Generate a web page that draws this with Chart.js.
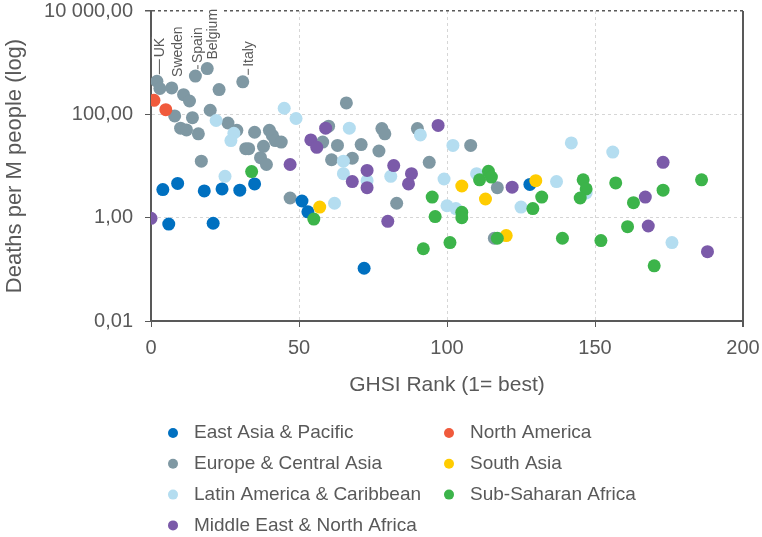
<!DOCTYPE html>
<html>
<head>
<meta charset="utf-8">
<script src="https://cdn.jsdelivr.net/npm/chart.js@4"></script>
<style>
  html, body { margin: 0; padding: 0; background: #fff; }
  #wrap { width: 762px; height: 537px; }
</style>
</head>
<body>
<div id="wrap"><canvas id="myChart" width="762" height="537"></canvas></div>
<script>
// regions, in legend order
var regions = ['East Asia & Pacific', 'Europe & Central Asia', 'Latin America & Caribbean',
               'Middle East & North Africa', 'North America', 'South Asia', 'Sub-Saharan Africa'];

// GHSI rank (x) and deaths per million (y) per region
var eapRank   = [4, 9, 18, 24, 30, 35, 6, 21, 51, 53, 72, 128];
var eapDeaths = [3.5, 4.6, 3.3, 3.6, 3.4, 4.5, 0.75, 0.78, 2.1, 1.3, 0.105, 4.4];

var ecaRank   = [2, 3, 7, 11, 13, 15, 19, 23, 31, 8, 14, 20, 26, 29, 10, 12, 16, 35, 32, 33, 38, 40, 41, 42, 44,
                 17, 37, 39, 47, 66, 60, 58, 63, 61, 68, 71, 77, 78, 79, 90, 108, 94, 83, 117, 116];
var ecaDeaths = [437, 316, 324, 240, 181, 550, 770, 302, 425, 93, 86, 120, 68, 49, 54, 50, 42, 45, 21.6, 21.6, 24, 49, 39, 31, 29,
                 12.4, 14.5, 10.7, 2.4, 166, 59, 29, 25, 13.2, 14.2, 26, 19.5, 53, 42, 53, 25, 11.8, 1.9, 3.8, 0.40];

var lacRank   = [22, 28, 27, 25, 45, 49, 62, 65, 65, 67, 81, 73, 91, 102, 99, 100, 103, 110, 125, 137, 142, 156, 147, 176];
var lacDeaths = [76, 43, 31, 6.3, 131, 83, 1.9, 12.4, 7.1, 54, 6.3, 5.2, 40, 25, 5.6, 1.7, 1.5, 7.1, 1.6, 5.0, 28, 18.6, 3.0, 0.33];

var menaRank   = [0, 47, 54, 56, 59, 68, 97, 73, 82, 88, 87, 73, 80, 122, 173, 167, 168, 188];
var menaDeaths = [0.97, 10.7, 32, 23, 54, 5.0, 61, 8.2, 10.2, 7.1, 4.5, 3.8, 0.85, 3.9, 11.8, 2.5, 0.69, 0.22];

var naRank   = [1, 5];
var naDeaths = [187, 123];

var saRank   = [57, 105, 113, 130, 120];
var saDeaths = [1.6, 4.1, 2.3, 5.2, 0.45];

var ssaRank   = [34, 55, 95, 96, 105, 105, 92, 101, 111, 114, 115, 117, 132, 129, 146, 147, 145, 157, 186, 173, 163, 161, 139, 152, 170];
var ssaDeaths = [7.8, 0.94, 2.5, 1.05, 1.27, 1.0, 0.25, 0.33, 5.4, 7.9, 6.1, 0.40, 2.5, 1.5, 5.4, 3.6, 2.4, 4.7, 5.4, 3.4, 1.95, 0.67, 0.40, 0.36, 0.117];

// axis ticks
var xTicks = [0, 50, 100, 150, 200];
var yTickValues = [0.01, 1, 100, 10000];
var yTickLabels = ['0,01', '1,00', '100,00', '10 000,00'];

// labelled countries (index into the Europe arrays)
var calloutNames = ['UK', 'Sweden', 'Spain', 'Belgium', 'Italy'];
var calloutIndex = [0, 2, 5, 6, 8];

var regionColors = ['#0070c0', '#7f98a3', '#b4ddf0', '#7b5aa9', '#f05a3c', '#ffcc00', '#3cb44a'];
var drawOrder = [5, 7, 6, 4, 3, 2, 1];
var textGray = '#595959';
var fam = '"Liberation Sans", Arial, sans-serif';

function pts(xs, ys) {
    return xs.map(function (x, i) { return { x: x, y: ys[i] }; });
}
var series = [
    pts(eapRank, eapDeaths), pts(ecaRank, ecaDeaths), pts(lacRank, lacDeaths),
    pts(menaRank, menaDeaths), pts(naRank, naDeaths), pts(saRank, saDeaths), pts(ssaRank, ssaDeaths)
];

// right frame line + country callouts
var framePlugin = {
    id: 'frame',
    beforeDatasetsDraw: function (chart) {
        var c = chart.ctx, a = chart.chartArea;
        var xs = chart.scales.x, ys = chart.scales.y;
        c.save();
        c.strokeStyle = textGray;
        c.lineWidth = 2;
        c.beginPath();
        c.moveTo(a.right, a.top);
        c.lineTo(a.right, a.bottom + 6);
        c.stroke();

        var offs = {
            'UK':      { dx: 3, dy: -24, lead: true },
            'Sweden':  { dx: 6, dy: -11, lead: false },
            'Spain':   { dx: 3, dy: -13, lead: true },
            'Belgium': { dx: 6, dy: -9,  lead: false },
            'Italy':   { dx: 6, dy: -15, lead: true }
        };
        c.font = '14px ' + fam;
        calloutNames.forEach(function (name, k) {
            var i = calloutIndex[k];
            var px = xs.getPixelForValue(ecaRank[i]);
            var py = ys.getPixelForValue(ecaDeaths[i]);
            var o = offs[name];
            var cx = px + o.dx, by = py + o.dy;
            var w = c.measureText(name).width;
            c.save();
            c.translate(cx, by);
            c.rotate(-Math.PI / 2);
            c.fillStyle = '#fff';
            c.fillRect(-1, -8, w + 2, 16);
            c.fillStyle = textGray;
            c.textAlign = 'left';
            c.textBaseline = 'middle';
            c.fillText(name, 0, 0);
            c.restore();
            if (o.lead) {
                c.strokeStyle = textGray;
                c.lineWidth = 1;
                c.beginPath();
                c.moveTo(cx - 0.5, py - 7);
                c.lineTo(cx - 0.5, by + 2);
                c.stroke();
            }
        });
        c.restore();
    }
};

// two-column legend under the chart
var legendPlugin = {
    id: 'gridLegend',
    afterDraw: function (chart) {
        var c = chart.ctx;
        var colX = [173, 449];
        c.save();
        c.font = '19px ' + fam;
        c.textBaseline = 'middle';
        c.textAlign = 'left';
        chart.data.datasets.forEach(function (ds, i) {
            var col = i < 4 ? 0 : 1;
            var row = i < 4 ? i : i - 4;
            var x = colX[col], y = 433 + row * 30.8;
            c.fillStyle = ds.backgroundColor;
            c.beginPath();
            c.arc(x, y, 5, 0, Math.PI * 2);
            c.fill();
            c.fillStyle = textGray;
            c.fillText(ds.label, x + 21, y);
        });
        c.restore();
    }
};

var ctx = document.getElementById('myChart').getContext('2d');
var myChart = new Chart(ctx, {
    type: 'scatter',
    data: {
        datasets: regions.map(function (r, i) {
            return {
                label: r,
                data: series[i],
                backgroundColor: regionColors[i],
                borderWidth: 0,
                pointRadius: 6.5,
                pointHoverRadius: 6.5,
                order: drawOrder[i]
            };
        })
    },
    options: {
        responsive: false,
        animation: false,
        events: [],
        layout: { padding: { left: 0, right: 19, top: 11, bottom: 136 } },
        plugins: {
            legend: { display: false },
            tooltip: { enabled: false }
        },
        scales: {
            x: {
                type: 'linear',
                min: 0,
                max: 200,
                afterBuildTicks: function (s) { s.ticks = xTicks.map(function (v) { return { value: v }; }); },
                afterFit: function (s) { s.height = 80; s.paddingLeft = 0; s.paddingRight = 0; },
                ticks: { color: textGray, font: { family: fam, size: 20 }, padding: 9, maxRotation: 0 },
                grid: {
                    color: function (c) {
                        return (c.tick && (c.tick.value === 0 || c.tick.value === 200)) ? 'rgba(0,0,0,0)' : '#d6d6d6';
                    },
                    tickColor: textGray,
                    tickLength: 6,
                    lineWidth: 1
                },
                border: { color: textGray, width: 2, dash: [3, 3] },
                title: {
                    display: true,
                    text: 'GHSI Rank (1= best)',
                    color: textGray,
                    font: { family: fam, size: 21 },
                    padding: { top: 4, bottom: 3 }
                }
            },
            y: {
                type: 'logarithmic',
                min: 0.01,
                max: 10000,
                afterBuildTicks: function (s) { s.ticks = yTickValues.map(function (v) { return { value: v }; }); },
                afterFit: function (s) { s.width = 151; s.paddingTop = 0; s.paddingBottom = 0; },
                ticks: {
                    color: textGray,
                    font: { family: fam, size: 20 },
                    padding: 12,
                    callback: function (v) { return yTickLabels[yTickValues.indexOf(v)]; }
                },
                grid: {
                    color: function (c) {
                        if (!c.tick) return '#d6d6d6';
                        if (c.tick.value === 10000) return '#595959';
                        if (c.tick.value === 0.01) return 'rgba(0,0,0,0)';
                        return '#d6d6d6';
                    },
                    lineWidth: function (c) { return (c.tick && c.tick.value === 10000) ? 1.5 : 1; },
                    tickColor: textGray,
                    tickLength: 6
                },
                border: { color: textGray, width: 2, dash: [3, 3] },
                title: {
                    display: true,
                    text: 'Deaths per M people (log)',
                    color: textGray,
                    font: { family: fam, size: 22 },
                    padding: { top: 2, bottom: 4 }
                }
            }
        }
    },
    plugins: [framePlugin, legendPlugin]
});
</script>
</body>
</html>
